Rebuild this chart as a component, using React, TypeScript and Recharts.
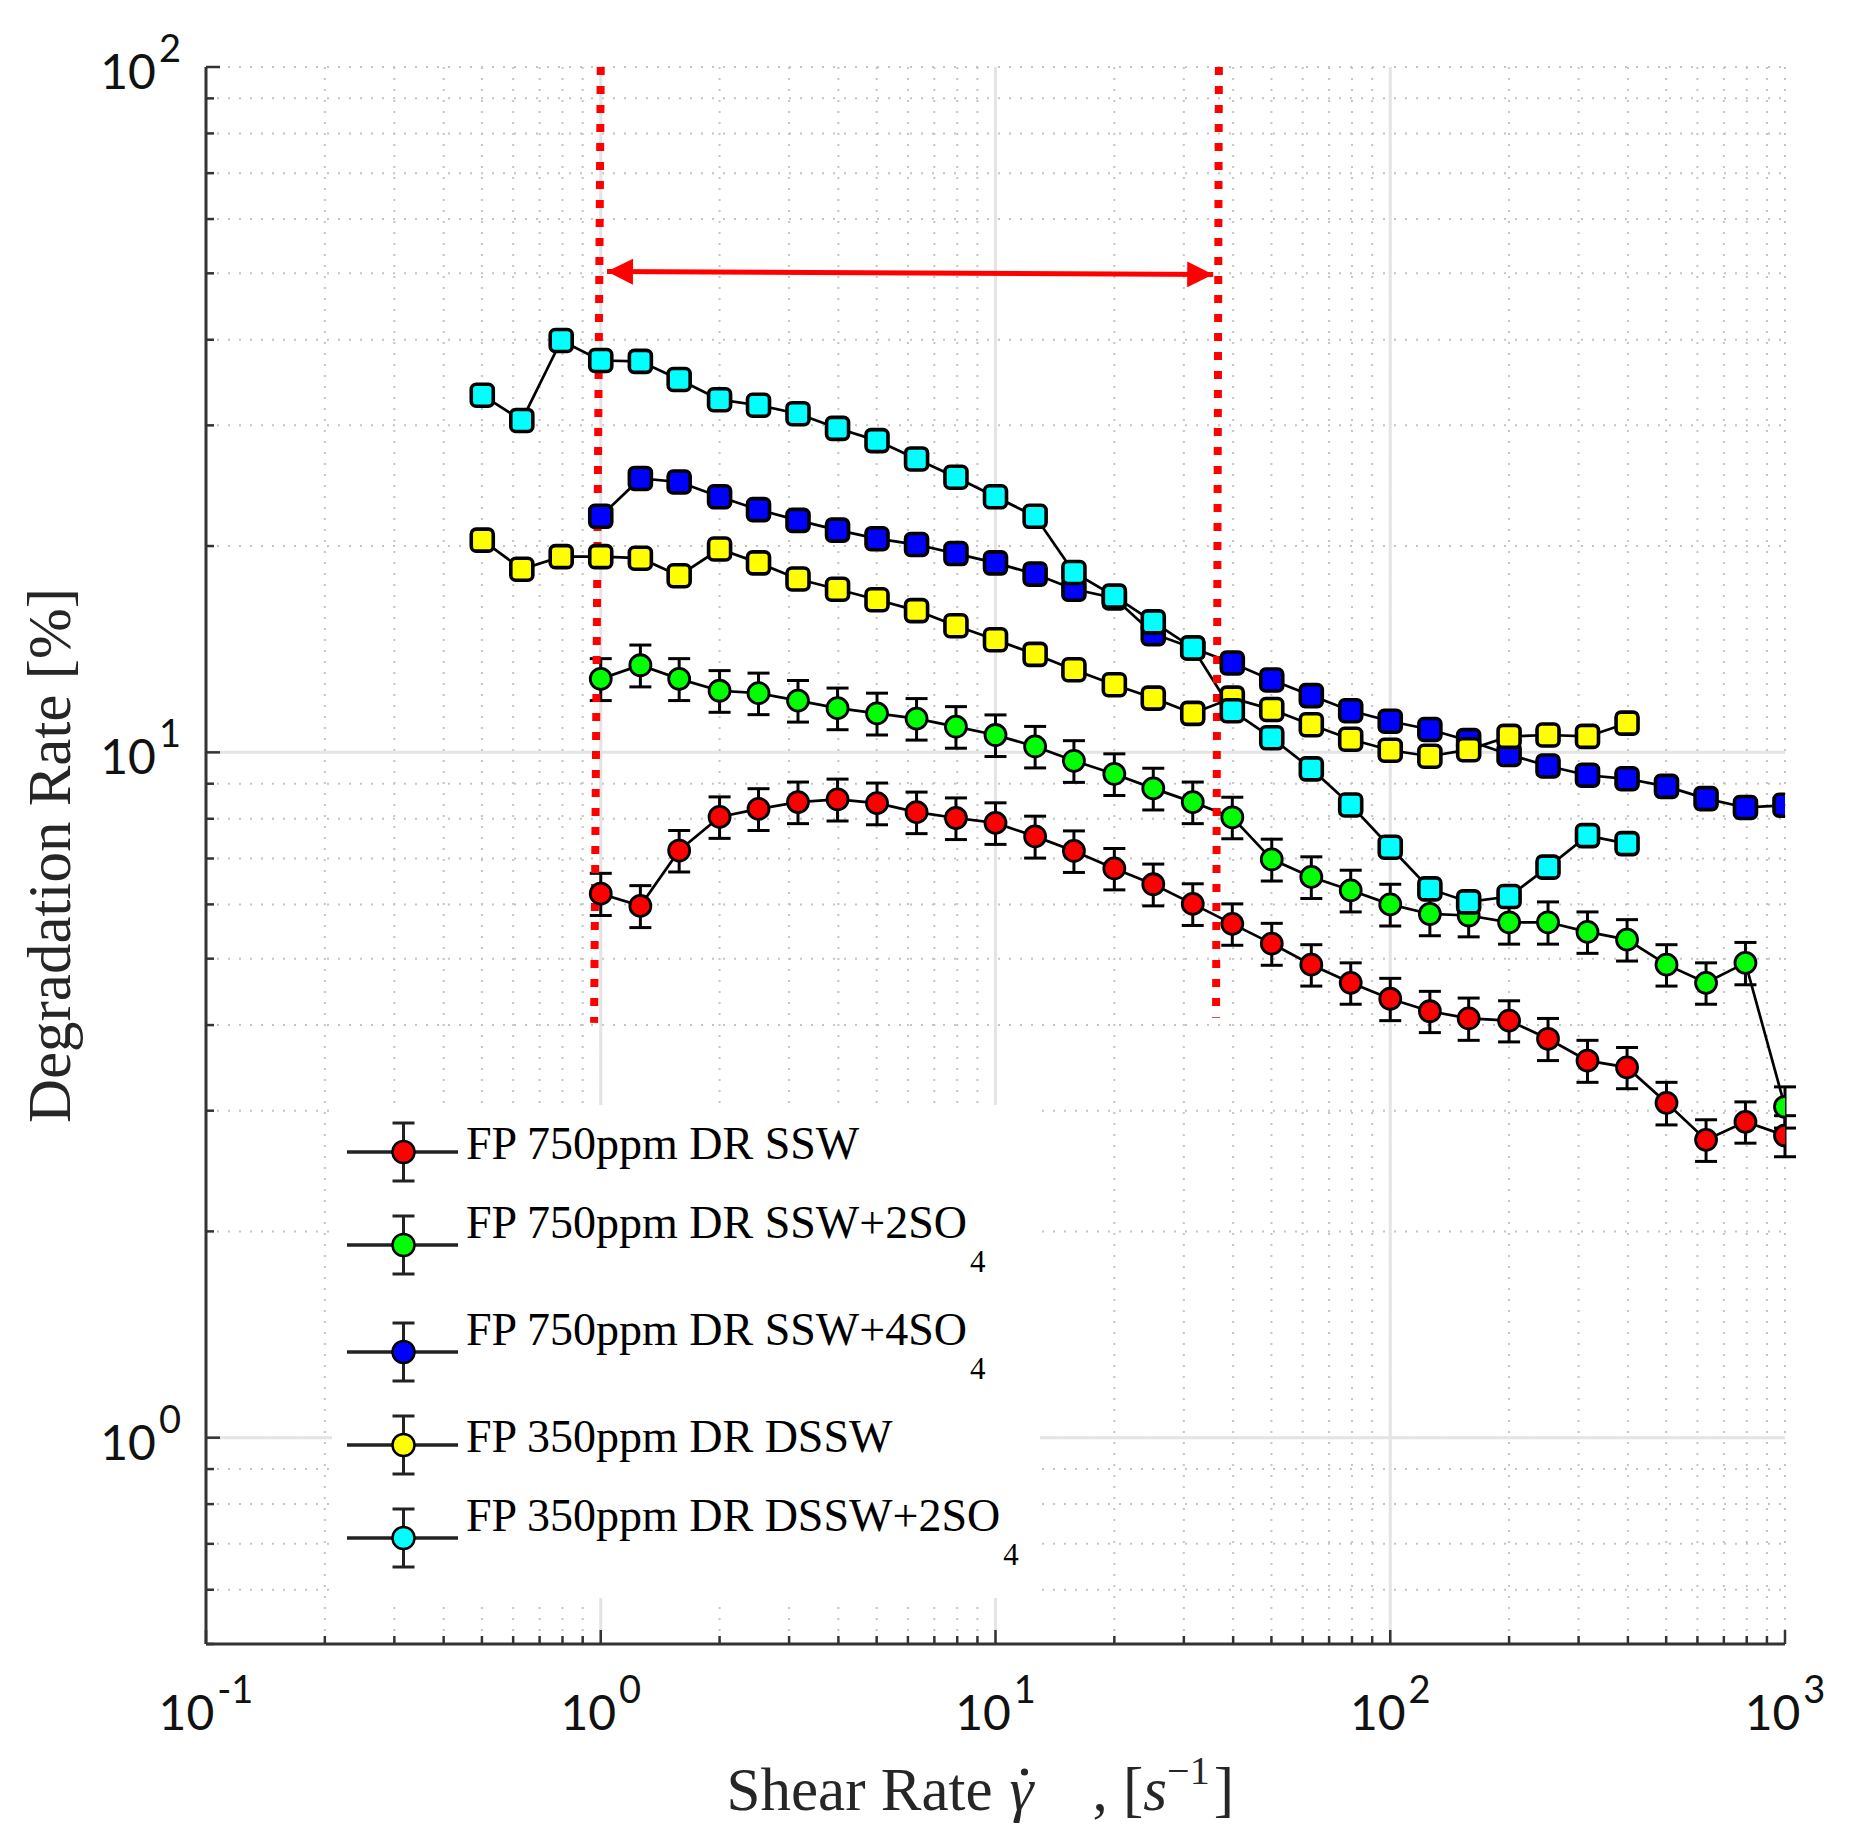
import React from 'react';
import { LineChart, Line, XAxis, YAxis, CartesianGrid, ErrorBar, ReferenceLine, Legend } from 'recharts';

// shear rate samples (1/s), 10 points per decade
const shearRate = [
  0.501, 0.631, 0.794, 1, 1.26, 1.58, 2, 2.51, 3.16, 3.98, 5.01, 6.31, 7.94, 10, 12.6, 15.8, 20,
  25.1, 31.6, 39.8, 50.1, 63.1, 79.4, 100, 126, 158, 200, 251, 316, 398, 501, 631, 794, 1000,
];
const xFull = shearRate.slice(3); // 1 .. 1000
const xShort = shearRate.slice(0, 30); // 0.5 .. 398

const ssw750 = [6.22, 5.97, 7.19, 8.05, 8.27, 8.46, 8.54, 8.43, 8.18, 8.02, 7.89, 7.54, 7.18, 6.77, 6.42, 6.01, 5.62, 5.26, 4.9, 4.61, 4.37, 4.19, 4.09, 4.06, 3.82, 3.55, 3.47, 3.08, 2.72, 2.89, 2.76];
const ssw750Err = [0.44, 0.42, 0.5, 0.56, 0.58, 0.59, 0.6, 0.59, 0.57, 0.56, 0.55, 0.53, 0.5, 0.47, 0.45, 0.42, 0.39, 0.37, 0.34, 0.32, 0.31, 0.29, 0.29, 0.28, 0.27, 0.25, 0.24, 0.22, 0.19, 0.2, 0.19];
const ssw2so4 = [12.8, 13.4, 12.8, 12.3, 12.2, 11.9, 11.6, 11.4, 11.2, 10.9, 10.6, 10.2, 9.72, 9.3, 8.86, 8.46, 8.04, 6.98, 6.58, 6.29, 6.0, 5.81, 5.78, 5.65, 5.65, 5.47, 5.33, 4.9, 4.61, 4.93, 3.04];
const ssw2so4Err = [0.9, 0.94, 0.9, 0.86, 0.85, 0.83, 0.81, 0.8, 0.78, 0.76, 0.74, 0.71, 0.68, 0.65, 0.62, 0.59, 0.56, 0.49, 0.46, 0.44, 0.42, 0.41, 0.4, 0.4, 0.4, 0.38, 0.37, 0.34, 0.32, 0.35, 0.21];
const ssw4so4 = [22.1, 25.1, 24.8, 23.6, 22.6, 21.8, 21.1, 20.5, 20.1, 19.5, 18.9, 18.2, 17.3, 16.8, 14.9, 14.2, 13.5, 12.75, 12.1, 11.5, 11.1, 10.8, 10.4, 9.93, 9.55, 9.26, 9.15, 8.92, 8.56, 8.31, 8.37];
const dssw350 = [20.4, 18.5, 19.3, 19.3, 19.2, 18.1, 19.8, 18.9, 17.9, 17.3, 16.7, 16.1, 15.3, 14.6, 13.9, 13.2, 12.55, 12.0, 11.4, 12.0, 11.55, 10.97, 10.45, 10.07, 9.87, 10.09, 10.55, 10.6, 10.55, 11.03];
const dssw2so4 = [33.2, 30.5, 39.9, 37.3, 37.2, 35.0, 32.7, 32.1, 31.2, 29.7, 28.5, 26.8, 25.2, 23.6, 22.1, 18.3, 16.9, 15.5, 14.2, 11.5, 10.5, 9.46, 8.38, 7.27, 6.32, 6.05, 6.16, 6.8, 7.56, 7.36];

const seriesNames = ['FP 750ppm DR SSW', 'FP 750ppm DR SSW+2SO', 'FP 750ppm DR SSW+4SO', 'FP 350ppm DR DSSW', 'FP 350ppm DR DSSW+2SO'];
const seriesSubs = ['', '4', '4', '', '4'];
const seriesColors = ['#ff0000', '#00ff00', '#0000ff', '#ffff00', '#00ffff'];

const xTicks = [0.1, 0.2, 0.3, 0.4, 0.5, 0.6, 0.7, 0.8, 0.9, 1, 2, 3, 4, 5, 6, 7, 8, 9, 10, 20, 30, 40, 50, 60, 70, 80, 90, 100, 200, 300, 400, 500, 600, 700, 800, 900, 1000];
const yTicks = [0.5, 0.6, 0.7, 0.8, 0.9, 1, 2, 3, 4, 5, 6, 7, 8, 9, 10, 20, 30, 40, 50, 60, 70, 80, 90, 100];
const xMajor = [1, 10, 100];
const yMajor = [1, 10];

// range of constant shear-rate window (red markers)
const windowLeft = [{ x: 1.0, y: 100 }, { x: 0.962, y: 4.03 }];
const windowRight = [{ x: 36.8, y: 100 }, { x: 36.2, y: 4.1 }];
const windowArrow = [{ x: 1.037, y: 50.3 }, { x: 35.6, y: 49.8 }];

const rows = (xs: number[], ys: number[], errs?: number[]) =>
  ys.map((y, i) => ({ x: xs[i], y, err: errs ? errs[i] : 0 }));

const TICK_FONT = 'Lato, "Open Sans", sans-serif';
const SERIF = '"Liberation Serif", "DejaVu Serif", serif';

const isMajor = (v: number) => Math.abs(Math.log10(v) - Math.round(Math.log10(v))) < 1e-6;

const BottomTick = (props: any) => {
  const { x, y, payload } = props;
  const v = payload.value;
  const major = isMajor(v);
  return (
    <g>
      <line x1={x} x2={x} y1={y} y2={y - (major ? 14 : 8)} stroke="#333" strokeWidth={2.5} />
      {major && (
        <text x={x} y={y + 86} textAnchor="middle" fontFamily={TICK_FONT} fontSize={48} fill="#111">
          10
          <tspan dx={3} dy={-27} fontSize={38}>{Math.round(Math.log10(v))}</tspan>
        </text>
      )}
    </g>
  );
};

const TopTick = (props: any) => {
  const { x, y, payload } = props;
  return <line x1={x} x2={x} y1={y} y2={y + (isMajor(payload.value) ? 14 : 8)} stroke="#555" strokeWidth={2.5} />;
};

const LeftTick = (props: any) => {
  const { x, y, payload } = props;
  const v = payload.value;
  const major = isMajor(v);
  return (
    <g>
      <line x1={x} x2={x + (major ? 14 : 8)} y1={y} y2={y} stroke="#333" strokeWidth={2.5} />
      {major && (
        <text x={x - 25} y={y + 22} textAnchor="end" fontFamily={TICK_FONT} fontSize={48} fill="#111">
          10
          <tspan dx={3} dy={-27} fontSize={38}>{Math.round(Math.log10(v))}</tspan>
        </text>
      )}
    </g>
  );
};

const RightTick = (props: any) => {
  const { x, y, payload } = props;
  return <line x1={x} x2={x - (isMajor(payload.value) ? 14 : 8)} y1={y} y2={y} stroke="#555" strokeWidth={2.5} />;
};

const circleDot = (color: string) => (p: any) => {
  if (p.cx == null || p.cy == null) return <g key={`c-${p.index}`} />;
  return <circle key={`c-${p.index}`} cx={p.cx} cy={p.cy} r={10.5} fill={color} stroke="#000" strokeWidth={2.8} />;
};

const squareDot = (color: string) => (p: any) => {
  if (p.cx == null || p.cy == null) return <g key={`s-${p.index}`} />;
  return (
    <rect key={`s-${p.index}`} x={p.cx - 11} y={p.cy - 11} width={22} height={22} rx={5}
      fill={color} stroke="#000" strokeWidth={3.6} />
  );
};

const ArrowShape = (p: any) => {
  const { x1, y1, x2, y2 } = p;
  const a = Math.atan2(y2 - y1, x2 - x1);
  const L = 26;
  const W = 13;
  const head = (tx: number, ty: number, dir: number) => {
    const bx = tx - dir * L * Math.cos(a);
    const by = ty - dir * L * Math.sin(a);
    const nx = -Math.sin(a) * W;
    const ny = Math.cos(a) * W;
    return `${tx},${ty} ${bx + nx},${by + ny} ${bx - nx},${by - ny}`;
  };
  return (
    <g>
      <line x1={x1} y1={y1} x2={x2} y2={y2} stroke="#ff0000" strokeWidth={5} />
      <polygon points={head(x1, y1, -1)} fill="#ff0000" />
      <polygon points={head(x2, y2, 1)} fill="#ff0000" />
    </g>
  );
};

const LEGEND_ROW_Y = [47, 140, 247, 340, 433];

const LegendBox = () => (
  <svg width={708} height={493} style={{ display: 'block' }}>
    {seriesNames.map((name, i) => {
      const cy = LEGEND_ROW_Y[i];
      const sub = seriesSubs[i];
      const base = cy + (sub ? -7 : 7);
      return (
        <g key={name}>
          <line x1={15} x2={126} y1={cy} y2={cy} stroke="#222" strokeWidth={3.5} />
          <line x1={71.5} x2={71.5} y1={cy - 29} y2={cy + 29} stroke="#222" strokeWidth={3} />
          <line x1={60.5} x2={82.5} y1={cy - 29} y2={cy - 29} stroke="#222" strokeWidth={3} />
          <line x1={60.5} x2={82.5} y1={cy + 29} y2={cy + 29} stroke="#222" strokeWidth={3} />
          <circle cx={71.5} cy={cy} r={11} fill={seriesColors[i]} stroke="#000" strokeWidth={2.5} />
          <text x={134} y={base} fontFamily={SERIF} fontSize={46} fill="#000">
            {name}
            {sub && <tspan dx={3} dy={34} fontSize={31}>{sub}</tspan>}
          </text>
        </g>
      );
    })}
  </svg>
);

const XLabel = (props: any) => {
  const vb = props.viewBox;
  const c = vb.x + vb.width / 2;
  const base = vb.y + 166;
  const font = { fontFamily: SERIF, fontSize: 61, fill: '#262626' };
  return (
    <g>
      <text x={c - 3} y={base} textAnchor="end" {...font}>Shear Rate</text>
      <text x={c + 14} y={base} fontStyle="italic" {...font}>{'\u03B3'}</text>
      <circle cx={c + 29} cy={base - 38} r={3.6} fill="#262626" />
      <text x={c + 97} y={base} {...font}>
        {', ['}
        <tspan fontStyle="italic">s</tspan>
        <tspan dy={-26} fontSize={40}>{'\u22121'}</tspan>
        <tspan dx={4} dy={26}>]</tspan>
      </text>
    </g>
  );
};

const YLabel = (props: any) => {
  const vb = props.viewBox;
  const cx = 70;
  const cy = vb.y + vb.height / 2;
  return (
    <text x={cx} y={cy} transform={`rotate(-90, ${cx}, ${cy})`} textAnchor="middle" fontFamily={SERIF} fontSize={61} fill="#262626">
      Degradation Rate [%]
    </text>
  );
};

export default function App() {
  return (
    <div style={{ position: 'absolute', left: 0, top: 0, width: 1851, height: 1846, background: '#fff' }}>
      <LineChart width={1851} height={1846} margin={{ top: 67, right: 66, bottom: 0, left: 0 }}>
        <CartesianGrid stroke="#c4c4c4" strokeWidth={2} strokeDasharray="2 9" />
        <CartesianGrid stroke="#e4e4e4" strokeWidth={3} verticalValues={xMajor} horizontalValues={yMajor} />
        <XAxis dataKey="x" type="number" scale="log" domain={[0.1, 1000]} allowDataOverflow ticks={xTicks}
          interval={0} height={202} tickSize={0} tickMargin={0} tickLine={false} tick={<BottomTick />}
          axisLine={{ stroke: '#333', strokeWidth: 3 }} label={<XLabelWrap />} />
        <XAxis xAxisId="top" orientation="top" dataKey="x" type="number" scale="log" domain={[0.1, 1000]} allowDataOverflow
          ticks={xTicks} interval={0} height={0} tickSize={0} tickMargin={0} tickLine={false} tick={<TopTick />}
          axisLine={{ stroke: '#808080', strokeWidth: 4 }} />
        <YAxis type="number" scale="log" domain={[0.5, 100]} allowDataOverflow ticks={yTicks} interval={0} width={206}
          tickSize={0} tickMargin={0} tickLine={false} tick={<LeftTick />} axisLine={{ stroke: '#333', strokeWidth: 3 }}
          label={<YLabelWrap />} />
        <YAxis yAxisId="r" orientation="right" type="number" scale="log" domain={[0.5, 100]} allowDataOverflow ticks={yTicks}
          interval={0} width={0} tickSize={0} tickMargin={0} tickLine={false} tick={<RightTick />}
          axisLine={{ stroke: '#808080', strokeWidth: 4 }} />

        <Line data={rows(xFull, ssw750, ssw750Err)} dataKey="y" name={seriesNames[0]} stroke="#000" strokeWidth={2.7}
          dot={circleDot(seriesColors[0])} isAnimationActive={false}>
          <ErrorBar dataKey="err" direction="y" width={11} stroke="#000" strokeWidth={3} isAnimationActive={false} />
        </Line>
        <Line data={rows(xFull, ssw2so4, ssw2so4Err)} dataKey="y" name={seriesNames[1]} stroke="#000" strokeWidth={2.7}
          dot={circleDot(seriesColors[1])} isAnimationActive={false}>
          <ErrorBar dataKey="err" direction="y" width={11} stroke="#000" strokeWidth={3} isAnimationActive={false} />
        </Line>
        <Line data={rows(xFull, ssw4so4)} dataKey="y" name={seriesNames[2]} stroke="#000" strokeWidth={2.7}
          dot={squareDot(seriesColors[2])} isAnimationActive={false} />
        <Line data={rows(xShort, dssw350)} dataKey="y" name={seriesNames[3]} stroke="#000" strokeWidth={2.7}
          dot={squareDot(seriesColors[3])} isAnimationActive={false} />
        <Line data={rows(xShort, dssw2so4)} dataKey="y" name={seriesNames[4]} stroke="#000" strokeWidth={2.7}
          dot={squareDot(seriesColors[4])} isAnimationActive={false} />

        <ReferenceLine segment={windowLeft} stroke="#ff0000" strokeWidth={8} strokeDasharray="8 11" ifOverflow="visible" />
        <ReferenceLine segment={windowRight} stroke="#ff0000" strokeWidth={8} strokeDasharray="8 11" ifOverflow="visible" />
        <ReferenceLine segment={windowArrow} ifOverflow="visible" shape={ArrowShape} />

        <Legend layout="vertical" align="center" verticalAlign="middle" content={() => <LegendBox />}
          wrapperStyle={{ position: 'absolute', left: 332, top: 1105, width: 708, height: 493, background: '#fff' }} />
      </LineChart>
    </div>
  );
}

function XLabelWrap(props: any) {
  return <XLabel {...props} />;
}

function YLabelWrap(props: any) {
  return <YLabel {...props} />;
}
